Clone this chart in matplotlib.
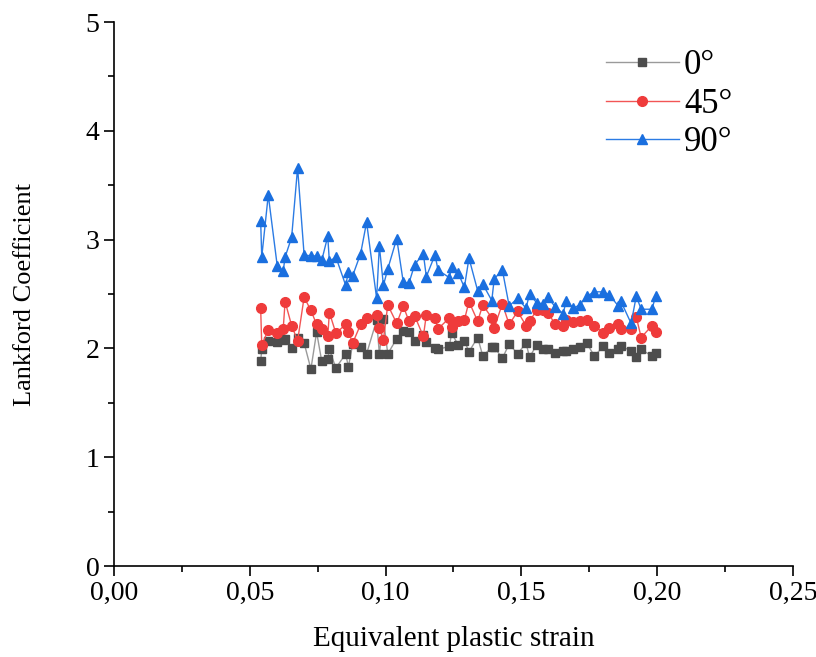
import numpy as np
import matplotlib
matplotlib.use("Agg")
import matplotlib.pyplot as plt
from matplotlib.ticker import MultipleLocator, FuncFormatter

# equivalent plastic strain (shared by the three orientations)
strain = [
    0.0540, 0.0544, 0.0568, 0.0601, 0.0623, 0.0630, 0.0654, 0.0676, 0.0700, 0.0725,
    0.0746, 0.0765, 0.0787, 0.0793, 0.0817, 0.0853, 0.0863, 0.0879, 0.0908, 0.0930,
    0.0967, 0.0977, 0.0992, 0.1008, 0.1041, 0.1065, 0.1086, 0.1107, 0.1139, 0.1150,
    0.1182, 0.1193, 0.1235, 0.1243, 0.1268, 0.1290, 0.1307, 0.1339, 0.1358, 0.1391,
    0.1400, 0.1430, 0.1455, 0.1486, 0.1517, 0.1530, 0.1556, 0.1578, 0.1597, 0.1625,
    0.1654, 0.1665, 0.1691, 0.1715, 0.1740, 0.1769, 0.1802, 0.1824, 0.1857, 0.1865,
    0.1904, 0.1923, 0.1941, 0.1981, 0.1994,
]

r_0 = [
    1.88, 1.99, 2.07, 2.06, 2.08, 2.09, 2.00, 2.10, 2.05, 1.81,
    2.15, 1.88, 1.90, 1.99, 1.82, 1.95, 1.83, 2.04, 2.01, 1.95,
    2.26, 1.95, 2.27, 1.95, 2.09, 2.16, 2.15, 2.07, 2.12, 2.06,
    2.00, 1.99, 2.02, 2.14, 2.03, 2.07, 1.97, 2.10, 1.93, 2.01,
    2.01, 1.91, 2.04, 1.95, 2.05, 1.92, 2.03, 1.99, 1.99, 1.96,
    1.98, 1.98, 1.99, 2.01, 2.05, 1.93, 2.02, 1.96, 1.99, 2.02,
    1.98, 1.92, 1.99, 1.93, 1.96,
]

r_45 = [
    2.37, 2.03, 2.17, 2.14, 2.18, 2.43, 2.21, 2.07, 2.47, 2.35,
    2.22, 2.18, 2.11, 2.33, 2.14, 2.22, 2.15, 2.05, 2.22, 2.28,
    2.31, 2.19, 2.08, 2.40, 2.23, 2.39, 2.25, 2.30, 2.11, 2.31,
    2.28, 2.18, 2.28, 2.20, 2.25, 2.26, 2.43, 2.25, 2.40, 2.28,
    2.19, 2.41, 2.22, 2.34, 2.21, 2.25, 2.35, 2.35, 2.33, 2.22,
    2.21, 2.26, 2.24, 2.25, 2.26, 2.21, 2.14, 2.19, 2.22, 2.18,
    2.18, 2.29, 2.10, 2.21, 2.15,
]

r_90 = [
    3.17, 2.84, 3.41, 2.76, 2.71, 2.84, 3.02, 3.66, 2.86, 2.85,
    2.85, 2.81, 3.03, 2.80, 2.84, 2.58, 2.70, 2.67, 2.87, 3.16,
    2.46, 2.94, 2.58, 2.73, 3.01, 2.61, 2.60, 2.77, 2.87, 2.66,
    2.86, 2.72, 2.65, 2.75, 2.69, 2.56, 2.83, 2.53, 2.59, 2.44,
    2.64, 2.72, 2.39, 2.46, 2.37, 2.50, 2.42, 2.41, 2.47, 2.38,
    2.32, 2.44, 2.37, 2.40, 2.48, 2.52, 2.52, 2.49, 2.39, 2.44,
    2.23, 2.48, 2.36, 2.36, 2.48,
]

plt.rcParams["font.family"] = ["Liberation Serif", "DejaVu Serif"]

fig = plt.figure(figsize=(8.16, 6.57), dpi=100)
ax = fig.add_axes([0.1397, 0.1385, 0.8321, 0.828])

ax.plot(strain, r_0, color="#9a9a9a", lw=1.0, marker="s", ms=6,
        mfc="#4d4d4d", mec="#4d4d4d", label="0°")
ax.plot(strain, r_45, color="#f25555", lw=1.0, marker="o", ms=7,
        mfc="#ef3b3b", mec="#ef3b3b", label="45°")
ax.plot(strain, r_90, color="#2b7be4", lw=1.0, marker="^", ms=7,
        mfc="#1a6fdf", mec="#1a6fdf", label="90°")

ax.set_xlim(0, 0.25)
ax.set_ylim(0, 5)
ax.xaxis.set_major_locator(MultipleLocator(0.05))
ax.xaxis.set_minor_locator(MultipleLocator(0.025))
ax.yaxis.set_major_locator(MultipleLocator(1))
ax.yaxis.set_minor_locator(MultipleLocator(0.5))
ax.xaxis.set_major_formatter(FuncFormatter(lambda v, p: f"{v:.2f}".replace(".", ",")))

for side in ["top", "right"]:
    ax.spines[side].set_visible(False)
for side in ["left", "bottom"]:
    ax.spines[side].set_linewidth(1.2)

ax.tick_params(which="major", direction="out", length=7, width=1.2, labelsize=20)
ax.tick_params(which="minor", direction="out", length=4, width=1.2)

ax.set_xlabel("Equivalent plastic strain", fontsize=21, labelpad=15)
ax.set_ylabel("Lankford Coefficient", fontsize=19, labelpad=36)

ax.legend(loc="upper left", bbox_to_anchor=(0.7246, 0.950), frameon=False,
          borderpad=0, borderaxespad=0,
          fontsize=25, handlelength=2.1, handletextpad=0.15, labelspacing=0.16)

fig.savefig("out.png", dpi=100)
